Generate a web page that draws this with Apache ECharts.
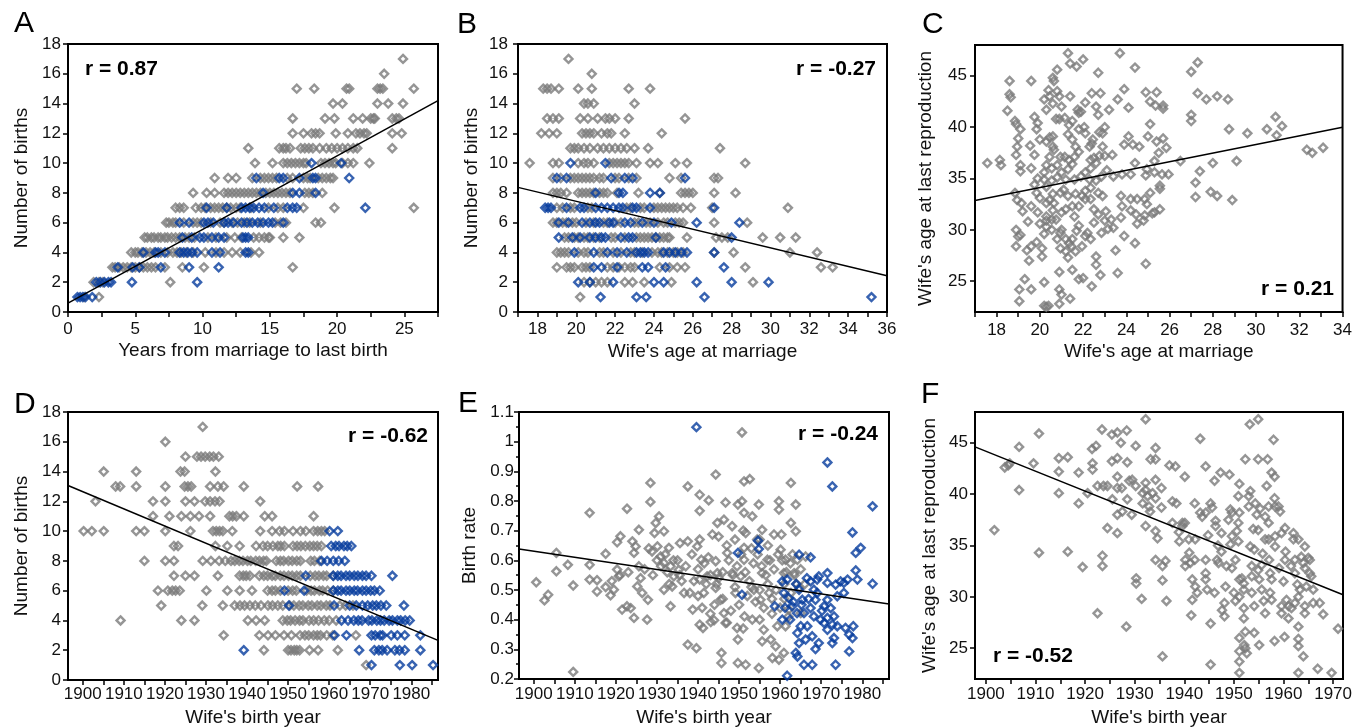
<!DOCTYPE html>
<html>
<head>
<meta charset="utf-8">
<script src="https://cdn.jsdelivr.net/npm/echarts@6/dist/echarts.min.js"></script>
<style>
html, body { margin: 0; padding: 0; background: #fff; }
#chart { width: 1355px; height: 728px; }
</style>
</head>
<body>
<div id="chart"></div>
<script>
// rows: index = number of births, values = x positions
var aGrayRows = [
    [],
    [1.2, 2.3],
    [1.9, 2.3, 2.6, 7.6],
    [3.3, 3.5, 3.8, 4.1, 4.4, 4.7, 5.0, 5.3, 5.6, 5.9, 6.2, 6.5, 7.2, 8.5, 10.1, 16.7],
    [4.7, 5.0, 5.2, 5.5, 5.8, 6.1, 6.4, 6.9, 7.4, 7.8, 8.1, 8.4, 8.8, 9.3, 10.2, 11.0, 11.6, 12.2, 12.8, 13.6, 14.2],
    [5.7, 5.9, 6.2, 6.4, 6.7, 6.9, 7.2, 7.4, 7.7, 8.0, 8.3, 8.7, 9.0, 9.4, 10.4, 11.0, 11.8, 12.4, 12.9, 13.8, 14.2, 14.6, 14.9, 15.0, 16.0, 17.2],
    [7.3, 7.5, 7.8, 8.0, 8.6, 9.3, 9.6, 9.9, 10.6, 11.3, 11.6, 12.2, 12.6, 13.1, 13.5, 14.3, 15.4, 15.8, 16.2, 18.4, 18.8],
    [8.0, 8.3, 8.6, 9.5, 9.9, 10.2, 10.6, 10.9, 11.2, 11.5, 11.8, 12.1, 12.5, 12.8, 13.6, 14.9, 15.6, 16.0, 17.5, 19.8, 25.7],
    [9.3, 10.3, 10.9, 11.6, 11.9, 12.2, 12.5, 12.8, 13.1, 13.4, 13.7, 14.0, 14.3, 14.7, 15.0, 15.3, 15.6, 15.9, 16.2, 16.5, 17.6, 17.9, 18.2, 18.9],
    [10.9, 11.9, 12.5, 13.7, 14.3, 14.6, 14.9, 15.2, 15.5, 16.3, 16.7, 17.5, 17.8, 18.0, 18.6, 18.9, 19.2, 19.5, 19.7],
    [13.9, 15.2, 16.0, 16.3, 16.6, 16.9, 17.2, 17.5, 17.7, 18.8, 19.1, 19.4, 19.7, 19.9, 20.4, 20.8, 21.2, 22.4],
    [13.4, 15.7, 16.0, 16.2, 16.5, 17.3, 17.6, 17.9, 18.2, 18.7, 19.2, 19.6, 20.0, 20.4, 20.8, 21.2, 21.5, 24.1],
    [16.7, 17.5, 18.1, 18.4, 18.7, 19.9, 20.8, 21.4, 21.7, 22.0, 22.2, 24.1, 24.8],
    [16.7, 19.1, 19.8, 21.2, 21.9, 22.5, 22.7, 22.8, 24.1, 24.4, 24.6],
    [19.7, 20.4, 23.0, 23.8, 24.9],
    [17.0, 18.3, 20.7, 20.9, 23.0, 23.2, 23.4, 25.7],
    [23.5],
    [24.9]
];
var aBlueRows = [
    [],
    [0.7, 0.9, 1.1, 1.3, 1.8],
    [2.1, 2.4, 2.7, 3.0, 3.2, 4.75, 9.6],
    [3.7, 4.8, 5.3, 6.9, 9.0, 11.2],
    [5.6, 6.5, 6.7, 7.2, 8.3, 8.6, 8.9, 9.2, 9.6, 10.7, 11.3, 13.2, 13.4],
    [8.5, 9.2, 9.8, 10.1, 10.7, 11.2, 11.6, 13.0, 13.2, 13.4],
    [8.3, 9.0, 10.1, 10.4, 10.8, 11.6, 11.9, 12.3, 12.9, 13.3, 13.7, 14.1, 14.5, 14.9, 15.2, 16.0],
    [10.3, 11.8, 12.9, 13.2, 13.5, 13.8, 14.2, 14.6, 15.3, 16.3, 16.7, 17.0, 22.1],
    [14.5, 16.7, 17.2, 18.4],
    [14.0, 15.7, 16.0, 17.2, 18.2, 18.4, 20.9],
    [18.1, 20.3]
];
var aLine = [[0, 0.6], [27.5, 14.2]];

var bGrayRows = [
    [],
    [20.2],
    [20.4, 20.7, 21.0, 21.3, 21.6, 22.5, 22.9, 23.5, 24.9, 29.1],
    [19.0, 19.5, 19.7, 19.9, 20.3, 20.5, 20.7, 21.6, 21.9, 22.2, 22.5, 22.8, 23.0, 24.3, 24.8, 25.2, 25.6, 28.7, 32.6, 33.2],
    [19.0, 19.2, 19.4, 19.6, 20.1, 20.4, 20.6, 21.2, 21.4, 21.9, 22.3, 22.8, 23.0, 23.4, 23.9, 24.2, 24.4, 24.7, 25.0, 25.2, 25.5, 27.1, 28.1, 31.0, 32.4],
    [19.4, 19.6, 19.9, 20.1, 20.4, 20.6, 20.9, 21.2, 21.8, 22.0, 22.5, 23.1, 23.3, 23.5, 23.7, 23.9, 24.1, 24.3, 24.5, 24.7, 24.8, 25.7, 27.2, 27.5, 27.8, 29.6, 30.5, 31.3],
    [18.8, 19.0, 19.3, 19.5, 19.8, 20.0, 20.5, 20.9, 21.4, 21.6, 22.0, 22.3, 23.0, 23.2, 23.6, 23.8, 24.2, 24.5, 24.7, 25.1, 25.3, 25.5, 27.1, 28.8],
    [19.0, 19.3, 19.7, 19.9, 20.6, 20.8, 22.6, 22.8, 23.3, 23.5, 24.0, 24.2, 24.4, 24.6, 24.8, 25.0, 25.2, 25.5, 25.9, 27.0, 30.9],
    [18.8, 19.0, 19.2, 19.5, 20.1, 20.3, 20.5, 20.7, 20.9, 21.2, 21.4, 21.6, 22.1, 23.2, 24.3, 25.4, 25.6, 25.8, 26.0, 27.1, 28.2],
    [18.8, 19.2, 19.7, 19.9, 20.1, 20.3, 20.5, 20.7, 20.9, 21.2, 21.4, 22.0, 22.2, 22.7, 23.1, 24.8, 25.4, 27.1, 27.3],
    [17.6, 18.8, 19.1, 20.1, 20.4, 20.6, 20.9, 21.7, 21.9, 22.1, 22.3, 22.5, 22.7, 23.1, 23.8, 24.2, 25.1, 25.7, 28.7],
    [19.7, 19.9, 20.1, 20.4, 20.7, 21.1, 21.4, 21.7, 22.0, 22.3, 22.6, 23.0, 23.7, 27.4],
    [18.2, 18.6, 19.0, 20.3, 20.5, 20.7, 20.9, 21.3, 21.6, 21.8, 22.5, 24.4],
    [18.5, 18.8, 19.1, 20.2, 20.6, 21.1, 21.5, 21.7, 22.0, 22.7, 25.6],
    [20.4, 20.6, 20.9, 23.0],
    [18.3, 18.5, 18.7, 19.1, 20.1, 20.8, 22.7, 23.8],
    [20.8],
    [19.6]
];
var bBlueRows = [
    [],
    [21.25, 23.1, 23.6, 26.6, 35.2],
    [20.1, 20.7, 21.9, 24.0, 24.5, 26.2, 28.0, 29.9],
    [20.9, 21.3, 22.1, 23.4, 23.7, 24.6, 27.6],
    [19.9, 20.9, 21.6, 22.1, 22.6, 23.1, 23.3, 23.5, 23.7, 24.5, 24.8, 25.1, 25.4, 25.7, 27.1],
    [19.1, 19.8, 20.2, 20.7, 21.0, 21.3, 21.5, 22.3, 22.7, 22.9, 24.1, 28.0],
    [19.1, 19.6, 20.3, 20.7, 21.0, 21.2, 21.7, 21.9, 22.5, 22.8, 23.4, 24.0, 24.9, 26.2, 28.4],
    [18.4, 18.55, 18.7, 19.5, 20.2, 20.4, 21.0, 21.3, 21.6, 21.9, 22.2, 22.4, 22.9, 23.1, 23.8, 27.1],
    [21.0, 22.2, 22.4, 23.8, 24.3],
    [19.0, 19.5, 21.8, 22.5, 22.9, 25.6],
    [19.7, 21.5]
];
var bLine = [[17, 8.37], [36, 2.44]];

var cPoints = [
    [17.57, 36.5], [18.15, 36.8], [18.2, 36.3], [18.5, 41.6], [18.6, 44.5], [18.6, 43.2], [18.65, 42.9],
    [18.85, 40.6], [18.9, 40.3], [19.1, 39.8], [18.9, 37.3], [19.0, 38.9], [18.95, 38.1], [19.1, 36.3],
    [19.1, 35.7], [18.85, 33.6], [18.95, 32.9], [19.15, 32.6], [19.2, 31.8], [18.9, 30.0], [19.1, 29.5],
    [19.0, 29.35], [18.9, 28.4], [19.4, 28.0], [19.6, 28.4], [19.5, 27.0], [19.6, 32.3], [19.45, 30.8],
    [19.3, 25.2], [19.05, 24.2], [19.05, 23.05], [19.6, 24.2], [19.6, 44.5], [19.55, 38.2], [19.75, 37.3],
    [19.6, 36.0], [19.75, 41.0], [19.9, 40.4], [19.85, 39.8], [20.0, 38.8], [19.75, 34.4], [19.85, 33.6],
    [20.0, 33.1], [19.9, 31.7], [19.85, 28.8], [20.0, 30.6], [20.1, 28.2], [20.1, 27.4], [20.2, 24.9],
    [20.2, 22.6], [20.4, 22.6], [20.3, 22.5], [20.9, 22.8], [20.9, 24.2], [21.0, 23.7], [21.4, 23.3],
    [20.9, 25.9], [21.5, 26.1], [21.8, 25.2], [22.0, 25.3], [22.4, 24.5], [22.6, 26.6], [22.6, 27.4],
    [22.8, 25.6], [23.6, 25.8], [23.5, 28.0], [23.9, 29.4], [24.4, 28.7], [24.9, 26.7], [21.3, 47.2],
    [21.4, 46.2], [21.7, 45.9], [22.0, 46.6], [22.7, 45.3], [23.7, 47.2], [24.4, 45.8], [20.8, 45.6],
    [20.6, 44.8], [20.65, 44.5], [20.4, 43.6], [20.45, 43.0], [20.2, 42.7], [20.8, 43.5], [20.9, 43.0],
    [20.6, 42.3], [21.0, 42.0], [21.4, 43.0], [21.8, 41.4], [21.75, 41.7], [22.1, 42.4], [22.4, 43.3],
    [22.8, 43.3], [22.6, 42.0], [22.7, 41.2], [23.2, 41.7], [23.6, 42.7], [23.9, 43.7], [24.1, 41.9],
    [24.9, 43.4], [25.1, 42.5], [25.4, 43.4], [25.35, 42.1], [25.7, 42.1], [25.7, 41.8], [27.0, 45.4],
    [27.3, 46.3], [27.3, 43.3], [27.7, 42.7], [28.2, 43.0], [28.7, 42.7], [27.0, 41.2], [27.0, 40.6],
    [28.75, 39.8], [29.6, 39.4], [30.5, 39.8], [30.9, 41.0], [30.95, 39.2], [31.2, 40.1], [32.35, 37.8],
    [32.6, 37.5], [33.1, 38.0], [29.1, 36.7], [28.0, 36.5], [27.4, 35.7], [27.2, 34.6], [27.2, 33.2],
    [27.9, 33.7], [28.2, 33.3], [28.9, 32.9], [26.5, 36.7], [25.85, 38.0], [25.95, 35.4], [25.65, 35.4],
    [25.55, 34.3], [25.55, 34.0], [25.55, 32.0], [25.3, 35.6], [25.5, 37.5], [25.7, 38.9], [25.4, 38.6],
    [25.3, 36.7], [24.95, 35.9], [24.9, 35.3], [25.0, 39.1], [25.1, 40.3], [24.6, 38.1], [24.4, 36.5],
    [24.1, 39.1], [23.9, 38.3], [24.3, 38.3], [24.2, 35.4], [23.8, 35.4], [24.2, 33.0], [24.5, 33.0],
    [24.85, 33.0], [25.1, 33.6], [24.95, 32.5], [25.3, 31.7], [24.85, 31.4], [24.45, 31.5], [24.5, 30.6],
    [24.8, 30.9], [25.2, 31.6], [24.2, 31.9], [23.75, 33.3], [23.8, 32.3], [23.75, 31.2], [23.4, 30.2],
    [23.3, 31.0], [23.0, 30.9], [23.15, 30.1], [22.85, 29.7], [22.5, 30.7], [22.2, 29.7], [22.1, 29.4],
    [22.35, 29.1], [21.95, 28.4], [21.5, 29.1], [21.35, 28.7], [21.7, 29.9], [21.0, 30.0], [21.2, 29.1],
    [20.95, 28.2], [21.2, 27.9], [21.3, 27.3], [20.8, 29.1], [20.55, 30.0], [20.3, 30.9], [20.3, 31.3],
    [20.55, 31.0], [20.75, 31.0], [21.0, 31.7], [21.2, 32.0], [21.5, 32.3], [21.6, 31.3], [21.8, 30.4],
    [22.1, 33.0], [22.35, 33.0], [22.5, 32.0], [22.7, 31.5], [23.05, 31.8], [22.7, 33.6], [22.35, 34.1],
    [22.1, 33.8], [21.95, 33.3], [21.65, 33.5], [21.3, 33.3], [21.1, 33.9], [20.95, 33.6], [20.6, 33.5],
    [20.45, 32.9], [20.3, 32.6], [20.65, 32.6], [20.3, 34.2], [20.2, 34.9], [20.55, 34.8], [20.8, 35.1],
    [21.0, 35.6], [21.3, 35.9], [21.5, 36.4], [21.6, 34.9], [21.9, 35.2], [22.1, 35.6], [22.35, 36.0],
    [22.6, 36.5], [22.75, 37.2], [23.0, 37.2], [23.35, 37.3], [22.9, 38.1], [23.1, 35.8], [23.4, 35.2],
    [22.85, 35.2], [22.6, 34.8], [22.35, 36.8], [22.3, 38.1], [22.45, 38.8], [22.4, 38.4], [22.1, 39.4],
    [22.05, 40.0], [22.75, 39.5], [23.0, 40.0], [22.9, 39.4], [21.8, 39.8], [21.65, 38.1], [21.5, 38.8],
    [21.3, 39.3], [21.35, 40.2], [21.5, 40.6], [21.15, 40.9], [20.9, 40.8], [20.75, 40.8], [20.6, 39.1],
    [20.45, 39.0], [20.3, 38.6], [20.6, 38.1], [20.65, 37.8], [20.45, 37.1], [20.3, 36.3], [20.55, 36.0],
    [20.8, 36.3], [20.95, 37.1], [21.15, 37.1], [21.35, 36.8], [21.6, 37.1], [21.8, 37.6], [20.3, 41.7],
    [20.2, 35.6], [21.2, 34.9], [22.3, 34.9], [22.9, 33.3], [21.8, 32.3], [20.6, 31.9], [20.95, 29.7],
    [21.65, 27.9], [21.45, 28.4], [20.3, 30.3], [20.2, 29.6], [21.9, 41.5], [19.9, 35.0], [22.5, 37.0]
];
var cLine = [[17, 32.85], [34, 40.0]];

var dGrayRows = [
    [],
    [1969.0],
    [1944.1, 1950.0, 1950.7, 1951.5, 1952.1, 1952.8, 1955.2, 1957.3, 1962.1],
    [1934.3, 1943.0, 1945.1, 1946.9, 1949.0, 1950.8, 1952.9, 1954.1, 1955.0, 1956.2, 1957.1, 1957.9, 1959.4, 1960.9, 1966.5],
    [1909.2, 1924.0, 1927.2, 1940.2, 1942.2, 1944.3, 1948.7, 1949.8, 1950.6, 1951.7, 1952.8, 1953.6, 1955.1, 1956.2, 1957.4, 1958.8, 1960.0, 1961.7],
    [1919.1, 1929.1, 1934.1, 1937.0, 1938.3, 1939.4, 1940.7, 1942.0, 1943.4, 1945.1, 1946.2, 1947.5, 1948.7, 1950.4, 1951.4, 1952.7, 1953.6, 1954.9, 1955.8, 1957.1, 1958.0, 1959.3, 1960.2, 1962.6, 1964.0, 1965.8],
    [1918.3, 1920.7, 1921.8, 1922.6, 1923.6, 1930.1, 1935.2, 1938.2, 1941.2, 1945.0, 1946.1, 1946.9, 1948.1, 1950.0, 1951.1, 1952.0, 1954.5, 1955.6, 1956.4, 1957.6, 1958.4, 1959.6, 1961.0],
    [1922.2, 1925.0, 1927.2, 1932.9, 1938.2, 1939.1, 1939.8, 1940.7, 1943.0, 1944.1, 1945.0, 1946.1, 1946.9, 1948.1, 1949.0, 1950.1, 1951.0, 1952.1, 1953.0, 1955.4, 1956.6, 1957.5, 1958.6, 1959.4, 1961.0],
    [1915.0, 1920.1, 1922.2, 1929.2, 1931.2, 1933.2, 1934.7, 1936.1, 1937.0, 1938.1, 1939.0, 1940.1, 1940.9, 1942.1, 1943.0, 1944.0, 1944.7, 1947.1, 1948.1, 1948.9, 1950.1, 1951.0, 1952.1, 1953.0, 1955.5, 1956.4, 1957.7],
    [1922.2, 1923.2, 1932.3, 1935.2, 1938.2, 1942.2, 1943.9, 1945.0, 1946.3, 1947.5, 1948.2, 1949.1, 1951.2, 1952.2, 1953.1, 1954.2, 1955.3, 1956.2, 1957.1, 1958.1],
    [1900.2, 1902.2, 1905.1, 1913.0, 1915.0, 1920.1, 1926.2, 1931.7, 1932.5, 1933.3, 1934.1, 1936.4, 1943.2, 1946.1, 1947.9, 1949.1, 1951.2, 1953.0, 1954.3, 1956.2, 1957.2, 1958.1, 1958.9],
    [1917.1, 1921.1, 1924.0, 1926.2, 1928.3, 1931.0, 1935.7, 1936.5, 1937.4, 1939.2, 1944.3, 1946.1, 1956.2],
    [1903.1, 1917.1, 1920.1, 1925.0, 1927.2, 1929.8, 1931.0, 1932.2, 1933.3, 1943.2],
    [1908.0, 1909.1, 1913.0, 1920.1, 1924.8, 1925.6, 1926.4, 1931.0, 1932.9, 1934.3, 1939.2, 1952.2, 1957.3],
    [1905.1, 1913.0, 1923.8, 1924.8, 1932.3],
    [1925.0, 1927.8, 1928.8, 1929.8, 1930.9, 1931.8, 1933.1],
    [1920.1],
    [1929.2]
];
var dBlueRows = [
    [],
    [1970.3, 1977.2, 1980.2, 1985.3],
    [1939.2, 1967.3, 1971.0, 1972.1, 1972.9, 1974.1, 1976.0, 1977.1, 1978.4, 1982.2],
    [1961.3, 1964.2, 1970.3, 1971.2, 1972.4, 1973.0, 1975.1, 1976.6, 1978.4, 1982.2],
    [1963.0, 1964.6, 1966.0, 1967.1, 1968.0, 1969.6, 1970.4, 1971.6, 1972.5, 1973.4, 1974.6, 1975.4, 1976.6, 1977.4, 1978.5, 1979.6],
    [1950.2, 1961.2, 1965.0, 1966.6, 1968.1, 1969.4, 1970.6, 1971.5, 1972.6, 1973.9, 1978.2],
    [1949.1, 1953.9, 1961.0, 1962.1, 1962.9, 1964.1, 1965.0, 1966.1, 1966.9, 1968.1, 1969.0, 1970.1, 1971.0, 1972.3],
    [1954.3, 1961.0, 1962.1, 1962.9, 1964.1, 1965.0, 1966.1, 1967.0, 1968.1, 1969.0, 1970.3, 1975.4],
    [1958.1, 1959.5, 1961.0, 1962.3, 1963.8],
    [1960.5, 1961.6, 1962.4, 1963.6, 1964.4, 1965.4],
    [1960.1, 1962.1]
];
var dLine = [[1896.4, 13.06], [1986.5, 2.66]];

var eGray = [
    [1900.6, 0.526], [1902.6, 0.465], [1903.5, 0.484], [1905.5, 0.625], [1905.5, 0.563], [1908.3, 0.585],
    [1909.6, 0.515], [1909.6, 0.224], [1913.6, 0.760], [1913.6, 0.585], [1913.6, 0.535], [1915.4, 0.533],
    [1915.4, 0.495], [1917.5, 0.622], [1917.5, 0.510], [1918.7, 0.482], [1919.5, 0.501], [1920.3, 0.661],
    [1921.1, 0.681], [1920.3, 0.569], [1920.7, 0.546], [1921.5, 0.434], [1922.7, 0.445], [1923.6, 0.439],
    [1922.7, 0.774], [1924.0, 0.664], [1924.8, 0.647], [1925.6, 0.703], [1924.4, 0.625], [1925.6, 0.580],
    [1925.2, 0.512], [1926.4, 0.490], [1924.4, 0.406], [1927.6, 0.400], [1927.8, 0.467], [1928.4, 0.861],
    [1928.4, 0.797], [1930.5, 0.748], [1929.7, 0.726], [1929.4, 0.692], [1930.1, 0.647], [1928.8, 0.630],
    [1930.9, 0.613], [1931.7, 0.698], [1932.9, 0.642], [1931.7, 0.591], [1933.3, 0.580], [1934.1, 0.546],
    [1935.3, 0.568], [1933.7, 0.512], [1931.7, 0.501], [1933.3, 0.445], [1935.6, 0.658], [1937.5, 0.664],
    [1937.5, 0.849], [1936.6, 0.490], [1937.5, 0.316], [1939.6, 0.304], [1938.7, 0.434], [1939.8, 0.647],
    [1940.4, 0.670], [1940.4, 0.821], [1942.6, 0.802], [1940.4, 0.767], [1940.8, 0.602], [1940.4, 0.535],
    [1942.2, 0.546], [1941.4, 0.490], [1940.4, 0.383], [1941.2, 0.372], [1943.9, 0.398], [1943.1, 0.392],
    [1944.3, 0.889], [1944.7, 0.726], [1943.5, 0.687], [1944.3, 0.597], [1944.7, 0.557], [1944.3, 0.507],
    [1945.5, 0.467], [1945.7, 0.288], [1945.7, 0.254], [1946.7, 0.795], [1946.3, 0.737], [1947.1, 0.625],
    [1946.3, 0.422], [1946.7, 0.389], [1948.3, 0.715], [1948.3, 0.557], [1949.1, 0.490], [1949.7, 0.333],
    [1949.5, 0.372], [1949.7, 0.254], [1949.7, 0.788], [1950.7, 0.799], [1951.2, 0.760], [1950.7, 1.031],
    [1951.2, 0.866], [1952.6, 0.874], [1951.6, 0.692], [1951.2, 0.642], [1951.2, 0.602], [1950.4, 0.546],
    [1951.3, 0.411], [1951.6, 0.248], [1953.2, 0.748], [1953.6, 0.501], [1953.2, 0.400], [1954.4, 0.670],
    [1954.8, 0.788], [1955.6, 0.703], [1955.6, 0.557], [1955.2, 0.467], [1956.0, 0.366], [1955.6, 0.327],
    [1954.8, 0.237], [1956.9, 0.602], [1957.3, 0.490], [1957.7, 0.333], [1958.1, 0.271], [1958.9, 0.310],
    [1959.7, 0.799], [1959.7, 0.771], [1958.5, 0.687], [1960.3, 0.687], [1960.1, 0.636], [1961.3, 0.602],
    [1960.9, 0.557], [1962.6, 0.861], [1962.6, 0.726], [1963.8, 0.788], [1963.8, 0.698], [1964.2, 0.602],
    [1963.4, 0.557], [1962.6, 0.490], [1962.1, 0.434], [1961.3, 0.378], [1960.9, 0.288], [1959.7, 0.265],
    [1959.3, 0.378], [1964.6, 0.507], [1966.2, 0.613], [1965.0, 0.422],
    [1931.0, 0.58], [1932.5, 0.56], [1934.0, 0.60], [1935.5, 0.55], [1937.0, 0.58], [1938.5, 0.62],
    [1940.0, 0.57], [1941.5, 0.59], [1942.5, 0.61], [1943.0, 0.55], [1944.5, 0.52], [1946.0, 0.56],
    [1947.5, 0.60], [1948.5, 0.55], [1949.5, 0.58], [1950.5, 0.62], [1951.5, 0.56], [1952.5, 0.53],
    [1953.5, 0.59], [1954.5, 0.62], [1955.5, 0.58], [1956.5, 0.55], [1957.5, 0.60], [1958.5, 0.57],
    [1959.5, 0.62], [1960.5, 0.60], [1961.5, 0.56], [1962.5, 0.59], [1963.5, 0.55], [1952.0, 0.48],
    [1954.0, 0.46], [1956.0, 0.44], [1958.0, 0.47], [1950.0, 0.45], [1948.0, 0.43], [1946.0, 0.47],
    [1944.0, 0.45], [1941.0, 0.44], [1938.0, 0.49], [1936.0, 0.53], [1933.0, 0.52], [1929.0, 0.55],
    [1927.0, 0.57], [1923.0, 0.56], [1921.0, 0.55], [1919.0, 0.53], [1957.0, 0.52], [1959.0, 0.50],
    [1961.0, 0.47], [1955.0, 0.50], [1953.0, 0.51], [1949.0, 0.51], [1945.0, 0.54], [1942.0, 0.52],
    [1939.0, 0.53], [1935.0, 0.60], [1932.0, 0.62], [1930.0, 0.60], [1928.0, 0.64], [1926.0, 0.54],
    [1940.0, 0.48], [1943.0, 0.42], [1947.0, 0.39], [1951.0, 0.37], [1955.0, 0.40], [1958.0, 0.42],
    [1960.0, 0.44], [1962.0, 0.41], [1964.0, 0.52], [1963.0, 0.62], [1965.0, 0.57], [1966.0, 0.52],
    [1961.0, 0.52], [1957.0, 0.65], [1955.0, 0.67], [1953.0, 0.64], [1951.0, 0.70], [1949.0, 0.67],
    [1947.0, 0.65], [1945.0, 0.68]
];
var eBlue = [
    [1939.6, 1.049], [1949.7, 0.625], [1950.7, 0.484], [1954.6, 0.666], [1954.8, 0.638], [1958.7, 0.445],
    [1960.5, 0.529], [1961.7, 0.535], [1960.5, 0.400], [1961.7, 0.211], [1964.6, 0.619], [1967.4, 0.610],
    [1960.9, 0.490], [1962.1, 0.473], [1962.9, 0.445], [1964.1, 0.422], [1964.6, 0.501], [1965.4, 0.467],
    [1965.8, 0.422], [1965.0, 0.378], [1964.2, 0.355], [1964.6, 0.321], [1963.8, 0.288], [1964.2, 0.276],
    [1965.8, 0.248], [1967.8, 0.248], [1966.2, 0.333], [1967.8, 0.344], [1966.6, 0.378], [1968.2, 0.411],
    [1967.4, 0.439], [1968.6, 0.467], [1969.0, 0.490], [1968.2, 0.501], [1967.4, 0.529], [1969.0, 0.535],
    [1969.4, 0.546], [1971.5, 0.557], [1971.5, 0.524], [1973.5, 0.518], [1974.7, 0.529], [1975.5, 0.524],
    [1976.4, 0.535], [1975.5, 0.490], [1973.9, 0.479], [1971.5, 0.467], [1970.7, 0.445], [1972.3, 0.439],
    [1973.1, 0.411], [1971.5, 0.406], [1970.7, 0.389], [1972.7, 0.383], [1973.9, 0.378], [1971.5, 0.366],
    [1973.1, 0.338], [1972.7, 0.321], [1969.4, 0.321], [1968.6, 0.301], [1973.5, 0.248], [1975.9, 0.372],
    [1976.8, 0.350], [1977.6, 0.338], [1977.8, 0.378], [1976.8, 0.293], [1971.5, 0.930], [1972.7, 0.849],
    [1977.6, 0.694], [1978.4, 0.625], [1979.6, 0.642], [1978.4, 0.566], [1978.8, 0.535], [1982.5, 0.782],
    [1982.5, 0.521], [1963.2, 0.46], [1962.4, 0.40], [1966.9, 0.47], [1970.2, 0.43], [1969.8, 0.40],
    [1963.9, 0.52], [1966.5, 0.54], [1961.2, 0.44], [1965.2, 0.45]
];
var eLine = [[1896.4, 0.638], [1986.5, 0.453]];

var fPoints = [
    [1901.7, 36.5], [1903.8, 42.6], [1904.5, 42.8], [1904.8, 43.0], [1906.7, 44.6], [1906.7, 40.4],
    [1909.6, 43.0], [1910.7, 45.9], [1910.7, 34.3], [1914.7, 43.5], [1916.5, 43.6], [1914.7, 42.2],
    [1914.7, 40.1], [1916.5, 34.4], [1918.7, 42.1], [1918.7, 39.1], [1919.5, 32.9], [1920.5, 40.1],
    [1921.4, 44.4], [1922.2, 44.7], [1921.5, 43.0], [1921.5, 42.4], [1922.5, 40.8], [1922.5, 28.4],
    [1923.4, 46.3], [1923.7, 40.8], [1923.5, 34.0], [1923.5, 33.0], [1924.5, 40.8], [1924.5, 36.7],
    [1925.4, 45.8], [1925.4, 43.2], [1925.5, 39.5], [1926.5, 46.0], [1926.5, 43.5], [1926.5, 41.7],
    [1926.5, 40.6], [1926.5, 38.0], [1926.5, 36.2], [1927.2, 45.0], [1927.4, 40.6], [1927.5, 38.3],
    [1928.4, 46.2], [1928.5, 43.1], [1928.5, 39.5], [1928.3, 27.1], [1928.9, 41.3], [1929.5, 41.4],
    [1929.4, 38.0], [1930.2, 40.8], [1930.2, 44.7], [1930.3, 31.8], [1930.3, 31.3], [1931.4, 29.8],
    [1931.6, 40.1], [1931.6, 39.1], [1932.2, 47.3], [1932.2, 41.1], [1932.2, 40.4], [1932.2, 36.9],
    [1932.6, 39.8], [1932.9, 38.8], [1933.1, 38.3], [1933.2, 43.4], [1933.6, 40.1], [1934.2, 43.4],
    [1934.2, 44.5], [1934.2, 41.4], [1934.2, 39.6], [1934.2, 36.4], [1934.6, 35.7], [1934.2, 33.6],
    [1935.4, 40.6], [1935.4, 38.7], [1935.6, 33.0], [1935.6, 31.6], [1935.6, 24.2], [1936.2, 33.5],
    [1936.4, 29.6], [1937.0, 42.8], [1937.6, 39.3], [1937.6, 37.2], [1938.2, 42.7], [1938.4, 39.1],
    [1938.9, 36.3], [1939.0, 35.4], [1939.6, 37.2], [1939.6, 36.9], [1940.1, 41.7], [1940.1, 37.2],
    [1940.2, 33.6], [1940.2, 33.0], [1940.9, 35.6], [1941.0, 34.3], [1941.2, 33.3], [1941.6, 31.7],
    [1941.6, 29.7], [1941.4, 28.2], [1942.1, 39.1], [1942.2, 35.6], [1942.1, 33.6], [1942.2, 31.0],
    [1942.6, 30.4], [1943.2, 45.4], [1943.2, 38.2], [1943.6, 37.8], [1944.3, 38.2], [1944.3, 42.7],
    [1944.3, 33.6], [1944.3, 32.3], [1944.3, 31.7], [1944.6, 30.7], [1945.3, 23.4], [1945.3, 27.4],
    [1945.3, 39.1], [1945.6, 38.7], [1946.3, 37.4], [1946.1, 41.3], [1946.3, 36.9], [1946.1, 30.4],
    [1946.6, 33.6], [1946.9, 33.3], [1947.3, 42.1], [1947.5, 34.4], [1947.5, 36.2], [1947.6, 28.7],
    [1948.1, 28.1], [1948.1, 29.4], [1948.3, 31.0], [1948.9, 37.5], [1949.1, 41.9], [1949.3, 38.5],
    [1949.3, 35.1], [1949.6, 38.2], [1949.6, 35.9], [1950.3, 33.6], [1949.6, 32.8], [1950.0, 30.4],
    [1950.3, 29.6], [1950.9, 35.4], [1950.9, 37.2], [1951.1, 41.0], [1950.9, 39.8], [1951.1, 38.2],
    [1951.1, 31.7], [1951.1, 30.0], [1951.1, 26.0], [1951.1, 24.7], [1951.1, 23.7], [1951.1, 22.6],
    [1951.6, 31.8], [1952.0, 31.3], [1952.0, 30.7], [1952.0, 28.9], [1952.0, 27.9], [1952.3, 26.6],
    [1952.1, 25.3], [1952.3, 25.0], [1952.6, 24.5], [1952.3, 43.4], [1953.0, 39.8], [1953.0, 38.8],
    [1953.2, 46.8], [1953.3, 40.3], [1953.3, 34.9], [1953.6, 33.0], [1953.6, 32.0], [1953.6, 30.4],
    [1954.1, 29.1], [1954.1, 26.5], [1954.1, 34.6], [1954.3, 39.1], [1954.6, 38.0], [1954.9, 47.3],
    [1954.9, 43.4], [1954.9, 36.5], [1954.9, 32.6], [1955.1, 31.7], [1955.1, 25.3], [1955.6, 33.1],
    [1955.6, 30.7], [1956.0, 29.6], [1956.3, 28.4], [1956.3, 35.6], [1956.3, 37.8], [1956.6, 40.8],
    [1956.8, 43.4], [1957.0, 38.8], [1957.0, 37.2], [1957.0, 35.6], [1957.1, 33.6], [1957.3, 32.3],
    [1957.3, 30.4], [1957.6, 29.7], [1957.6, 31.7], [1957.6, 42.1], [1958.0, 45.3], [1958.2, 41.7],
    [1958.2, 39.6], [1958.3, 38.8], [1958.3, 35.9], [1958.3, 34.9], [1958.2, 25.7], [1959.0, 38.8],
    [1959.3, 38.3], [1959.6, 36.2], [1959.6, 28.4], [1959.6, 29.1], [1960.0, 31.5], [1960.2, 26.1],
    [1960.3, 33.6], [1960.3, 36.7], [1960.4, 34.4], [1960.6, 29.7], [1961.0, 29.1], [1961.0, 27.9],
    [1961.6, 28.9], [1962.0, 36.2], [1962.0, 35.6], [1962.3, 33.6], [1962.3, 32.3], [1962.3, 29.4],
    [1963.0, 30.0], [1963.0, 35.6], [1963.0, 27.1], [1963.0, 25.9], [1963.0, 25.2], [1963.0, 22.6],
    [1963.3, 30.7], [1963.6, 33.9], [1964.0, 33.3], [1964.0, 24.2], [1964.3, 34.9], [1964.3, 32.8],
    [1964.3, 29.1], [1964.3, 28.4], [1964.6, 31.0], [1965.0, 33.8], [1965.3, 33.6], [1965.3, 32.3],
    [1965.6, 32.0], [1966.0, 30.7], [1966.0, 29.4], [1966.9, 23.0], [1967.3, 29.4], [1968.0, 28.3],
    [1969.7, 22.6], [1971.0, 26.9], [1944.8, 36.0], [1948.5, 33.0], [1953.9, 36.6], [1955.8, 34.2],
    [1959.1, 32.8], [1961.5, 33.0], [1962.8, 31.2], [1955.3, 38.6], [1950.6, 36.4], [1946.8, 35.0]
];
var fLine = [[1897.8, 44.6], [1972, 30.2]];

var panelLetters = ['A', 'B', 'C', 'D', 'E', 'F'];
var rLabels = ['r = 0.87', 'r = -0.27', 'r = 0.21', 'r = -0.62', 'r = -0.24', 'r = -0.52'];

var GRAY = '#7b7b7b';
var BLUE = '#063c9e';
var FONT = '"Liberation Sans", Arial, sans-serif';

function rowsToPoints(rows) {
    var pts = [];
    rows.forEach(function (xs, n) {
        xs.forEach(function (x) { pts.push([x, n]); });
    });
    return pts;
}

function steps(from, to, step) {
    var out = [];
    for (var v = from; v <= to; v += step) out.push(v);
    return out;
}

function makeAxis(gridIndex, extra) {
    var axis = {
        type: 'value',
        gridIndex: gridIndex,
        nameLocation: 'middle',
        nameTextStyle: { fontSize: 19, color: '#111', fontFamily: FONT },
        axisLine: { show: true, onZero: false, lineStyle: { color: '#000', width: 2 } },
        axisTick: { show: true, inside: false, length: 5, lineStyle: { color: '#000', width: 1.5 } },
        splitLine: { show: false },
        axisLabel: { color: '#111', fontSize: 17, fontFamily: FONT }
    };
    for (var k in extra) {
        if (k === 'axisLabel' || k === 'axisTick') {
            for (var j in extra[k]) axis[k][j] = extra[k][j];
        } else {
            axis[k] = extra[k];
        }
    }
    return axis;
}

function scatter(idx, data, color) {
    return {
        type: 'scatter',
        xAxisIndex: idx,
        yAxisIndex: idx,
        data: data,
        symbol: 'diamond',
        symbolSize: 8,
        itemStyle: { color: 'rgba(255,255,255,0)', borderColor: color, borderWidth: 2.4 },
        silent: true
    };
}

function fitLine(idx, data) {
    return {
        type: 'line',
        xAxisIndex: idx,
        yAxisIndex: idx,
        data: data,
        showSymbol: false,
        symbol: 'none',
        lineStyle: { color: '#000', width: 1.5 },
        z: 5,
        silent: true
    };
}

var evenOnly = function (v) { return v % 2 === 0 ? v : ''; };
var plain = function (v) { return String(v); };
var yearTicks = steps(1900, 1985, 5);
var yearLabels = steps(1900, 1980, 10);
var ageTicks = [25, 30, 35, 40, 45];

var chart = echarts.init(document.getElementById('chart'));

var gridBox = { show: true, borderColor: '#000', borderWidth: 2, backgroundColor: 'rgba(0,0,0,0)' };
function grid(l, t, w, h) {
    return Object.assign({ left: l, top: t, width: w, height: h }, gridBox);
}

var option = {
    animation: false,
    backgroundColor: '#fff',
    grid: [
        grid(68, 44, 370, 268),
        grid(518, 44, 369, 268),
        grid(975, 45, 371, 267),
        grid(68, 412, 370, 269),
        grid(519, 412, 370, 267),
        grid(975, 412, 370, 267)
    ],
    xAxis: [
        makeAxis(0, { min: 0, max: 27.5, interval: 2.5, name: 'Years from marriage to last birth', nameGap: 29,
            axisLabel: { margin: 9, formatter: function (v) { return v % 5 === 0 ? v : ''; } } }),
        makeAxis(1, { min: 17, max: 36, interval: 1, name: "Wife's age at marriage", nameGap: 30,
            axisLabel: { margin: 9, formatter: evenOnly } }),
        makeAxis(2, { min: 17, max: 34, interval: 1, name: "Wife's age at marriage", nameGap: 30,
            axisLabel: { margin: 10, formatter: evenOnly } }),
        makeAxis(3, { min: 1896.4, max: 1986.5, name: "Wife's birth year", nameGap: 28,
            axisTick: { customValues: yearTicks }, axisLabel: { margin: 6, customValues: yearLabels, formatter: plain } }),
        makeAxis(4, { min: 1896.4, max: 1986.5, name: "Wife's birth year", nameGap: 29,
            axisTick: { customValues: yearTicks }, axisLabel: { margin: 7, customValues: yearLabels, formatter: plain } }),
        makeAxis(5, { min: 1897.8, max: 1972, name: "Wife's birth year", nameGap: 29,
            axisTick: { customValues: steps(1900, 1970, 5) },
            axisLabel: { margin: 7, customValues: steps(1900, 1970, 10), formatter: plain } })
    ],
    yAxis: [
        makeAxis(0, { min: 0, max: 18, interval: 2, name: 'Number of births', nameGap: 37, axisLabel: { margin: 7 } }),
        makeAxis(1, { min: 0, max: 18, interval: 2, name: 'Number of births', nameGap: 37, axisLabel: { margin: 10 } }),
        makeAxis(2, { min: 22, max: 48, name: "Wife's age at last reproduction", nameGap: 40,
            axisTick: { customValues: ageTicks }, axisLabel: { margin: 8, customValues: ageTicks } }),
        makeAxis(3, { min: 0, max: 18, interval: 2, name: 'Number of births', nameGap: 37, axisLabel: { margin: 7 } }),
        makeAxis(4, { min: 0.2, max: 1.1, interval: 0.1, name: 'Birth rate', nameGap: 40,
            minorTick: { show: true, splitNumber: 2, length: 3, lineStyle: { color: '#000', width: 1.5 } },
            axisLabel: { margin: 5 } }),
        makeAxis(5, { min: 22, max: 48, name: "Wife's age at last reproduction", nameGap: 36,
            axisTick: { customValues: ageTicks }, axisLabel: { margin: 7, customValues: ageTicks } })
    ],
    series: [
        scatter(0, rowsToPoints(aGrayRows), GRAY),
        scatter(0, rowsToPoints(aBlueRows), BLUE),
        fitLine(0, aLine),
        scatter(1, rowsToPoints(bGrayRows), GRAY),
        scatter(1, rowsToPoints(bBlueRows), BLUE),
        fitLine(1, bLine),
        scatter(2, cPoints, GRAY),
        fitLine(2, cLine),
        scatter(3, rowsToPoints(dGrayRows), GRAY),
        scatter(3, rowsToPoints(dBlueRows), BLUE),
        fitLine(3, dLine),
        scatter(4, eGray, GRAY),
        scatter(4, eBlue, BLUE),
        fitLine(4, eLine),
        scatter(5, fPoints, GRAY),
        fitLine(5, fLine)
    ],
    graphic: []
};

// panel letters and correlation labels
var letterPos = [[14, 24], [457, 25], [922, 25], [14, 405], [458, 404], [921, 395]];
var rPos = [[85, 69, 'left'], [876, 69, 'right'], [1334, 289, 'right'], [428, 436, 'right'], [878, 434, 'right'], [993, 656, 'left']];
panelLetters.forEach(function (t, i) {
    option.graphic.push({
        type: 'text', x: letterPos[i][0], y: letterPos[i][1], silent: true,
        style: { text: t, font: '30px ' + FONT, fill: '#000', verticalAlign: 'middle', align: 'left' }
    });
});
rLabels.forEach(function (t, i) {
    option.graphic.push({
        type: 'text', x: rPos[i][0], y: rPos[i][1], silent: true, z: 10,
        style: { text: t, font: 'bold 21px ' + FONT, fill: '#000', verticalAlign: 'middle', align: rPos[i][2] }
    });
});

chart.setOption(option);
</script>
</body>
</html>
